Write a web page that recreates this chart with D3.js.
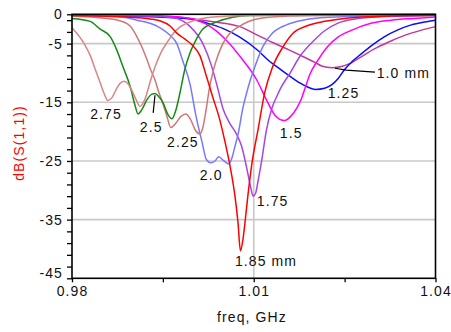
<!DOCTYPE html>
<html>
<head>
<meta charset="utf-8">
<script src="https://cdn.jsdelivr.net/npm/d3@7"></script>
<style>
  body { margin: 0; background: #fff; }
  svg { display: block; font-family: "Liberation Sans", Arial, sans-serif; }
</style>
</head>
<body>
<div id="chart"></div>
<script>
// Return loss curves, one per patch width (frequency in GHz, S11 in dB)
const f275 = [0.98, 0.9820, 0.9830, 0.9838, 0.9846, 0.9853, 0.9859, 0.9866, 0.9873, 0.9879, 0.9886, 0.9892, 0.9899, 0.9906, 0.9912, 0.9917, 0.9922, 0.9929, 0.9937, 0.9947, 0.9957, 0.9967, 0.9978, 0.9990, 1.0011, 1.0060, 1.0150, 1.0250, 1.04];
const db275 = [-2.3, -5, -7, -9.3, -11.5, -13.5, -14.7, -14.2, -12.8, -11.8, -11.4, -11.8, -13, -14.6, -15.7, -15.2, -14, -11.5, -9, -6.5, -4.8, -3.3, -2.2, -1.5, -0.8, -0.3, -0.15, -0.08, -0.05];

const f250 = [0.98, 0.9830, 0.9846, 0.9863, 0.9874, 0.9884, 0.9896, 0.9904, 0.9909, 0.9915, 0.9924, 0.9932, 0.9937, 0.9943, 0.9950, 0.9958, 0.9965, 0.9971, 0.9978, 0.9986, 0.9995, 1.0003, 1.0016, 1.0039, 1.0065, 1.0093, 1.0176, 1.04];
const db250 = [-0.7, -1.2, -2.5, -3.8, -6.1, -8.9, -12.3, -15.5, -17, -16.3, -14.5, -13.6, -13.5, -14, -15, -17, -17.8, -16.5, -13.5, -9.5, -6.5, -4.7, -2.5, -1.3, -0.5, -0.2, -0.1, -0.05];

const f225 = [0.98, 0.9846, 0.9879, 0.9896, 0.9907, 0.9915, 0.9924, 0.9930, 0.9937, 0.9943, 0.9950, 0.9957, 0.9963, 0.9971, 0.9980, 0.9988, 0.9996, 1.0004, 1.0011, 1.0016, 1.0021, 1.0027, 1.0034, 1.0041, 1.0049, 1.0060, 1.0077, 1.0105, 1.0159, 1.0258, 1.04];
const db225 = [-0.3, -0.6, -1.1, -2, -3.8, -5.5, -7.8, -9.5, -11.2, -13.2, -15.2, -17.5, -19.3, -18.6, -17.4, -17, -18, -19.8, -20.4, -19.3, -16.5, -12.5, -9.3, -7, -5, -3.3, -2, -0.8, -0.3, -0.15, -0.1];

const f200 = [0.98, 0.9879, 0.9907, 0.9940, 0.9961, 0.9973, 0.9983, 0.9995, 1.0004, 1.0014, 1.0022, 1.0029, 1.0036, 1.0042, 1.0051, 1.0059, 1.0064, 1.0069, 1.0074, 1.0082, 1.0088, 1.0095, 1.0102, 1.0115, 1.0131, 1.0154, 1.0181, 1.0225, 1.0308, 1.04];
const db200 = [-0.1, -0.4, -1, -2, -3.5, -5, -8, -12, -17, -21.5, -24.8, -25.3, -25, -24.3, -25, -25.5, -24.5, -22.5, -20.5, -16, -13.5, -11, -8.9, -5.5, -3.2, -1.8, -1, -0.5, -0.25, -0.15];

const f185 = [0.98, 0.9896, 0.9929, 0.9945, 0.9962, 0.9973, 0.9986, 0.9998, 1.0011, 1.0022, 1.0032, 1.0044, 1.0052, 1.0060, 1.0069, 1.0074, 1.0078, 1.0082, 1.0085, 1.0090, 1.0097, 1.0107, 1.0118, 1.0131, 1.0148, 1.0164, 1.0187, 1.0217, 1.0250, 1.0295, 1.04];
const db185 = [-0.2, -0.5, -0.8, -1.1, -2, -3.2, -4.2, -5.2, -7, -10.6, -14, -18, -21.5, -25.4, -31, -35.5, -40.3, -38.5, -36, -31.2, -25.4, -19.7, -13.4, -9, -5.6, -3.3, -2, -1.2, -0.7, -0.4, -0.15];

const f175 = [0.98, 0.9929, 0.9967, 0.9995, 1.0016, 1.0031, 1.0041, 1.0049, 1.0060, 1.0072, 1.0080, 1.0088, 1.0095, 1.0099, 1.0103, 1.0107, 1.0113, 1.0121, 1.0130, 1.0138, 1.0146, 1.0159, 1.0176, 1.0201, 1.0217, 1.0239, 1.0267, 1.0308, 1.04];
const db175 = [-0.2, -0.3, -0.6, -2.1, -5, -9, -12.8, -16, -18.5, -20.5, -22.5, -26, -29.5, -31, -30.5, -28.5, -25, -19.7, -16, -14, -12.3, -10.2, -7.2, -4.3, -2.8, -1.5, -0.8, -0.4, -0.2];

const f150 = [0.98, 0.9929, 0.9971, 1.0007, 1.0020, 1.0039, 1.0060, 1.0082, 1.0105, 1.0121, 1.0135, 1.0143, 1.0151, 1.0161, 1.0171, 1.0179, 1.0186, 1.0192, 1.0206, 1.0222, 1.0239, 1.0262, 1.0295, 1.0327, 1.0365, 1.04];
const db150 = [-0.1, -0.2, -0.4, -1, -1.6, -2.9, -5, -7.8, -11.2, -14.6, -17.2, -17.9, -18.1, -17.4, -16, -14.3, -12.2, -10.4, -7.8, -5.5, -3.9, -2.7, -1.5, -1, -0.7, -0.45];

const f125 = [0.98, 0.9929, 0.9995, 1.0023, 1.0049, 1.0077, 1.0105, 1.0126, 1.0143, 1.0159, 1.0176, 1.0189, 1.0202, 1.0217, 1.0229, 1.0239, 1.0250, 1.0262, 1.0278, 1.0295, 1.0316, 1.0337, 1.0360, 1.0382, 1.04];
const db125 = [-0.2, -0.4, -0.8, -1.5, -2.4, -3.9, -6, -8, -9.3, -10.5, -11.7, -12.4, -12.8, -12.6, -12, -11, -9.4, -8.1, -6.7, -5.3, -3.8, -2.7, -1.8, -1.3, -1];

const f100 = [0.98, 0.9929, 0.9995, 1.0036, 1.0077, 1.0105, 1.0131, 1.0159, 1.0181, 1.0201, 1.0212, 1.0229, 1.0245, 1.0258, 1.0278, 1.0299, 1.0321, 1.0349, 1.0377, 1.04];
const db100 = [-0.1, -0.3, -0.7, -1.3, -2.1, -3.5, -4.8, -6.1, -7.2, -8.2, -8.8, -9.1, -8.9, -8.4, -7.2, -5.9, -4.8, -3.6, -2.7, -2.1];

// Curve labels: text, anchor frequency, anchor dB
const labelText = ["2.75", "2.5", "2.25", "2.0", "1.85 mm", "1.75", "1.5", "1.25", "1.0 mm"];
const labelF = [0.9830, 0.9912, 0.9957, 1.0011, 1.0069, 1.0105, 1.0143, 1.0222, 1.0303];
const labelDb = [-17.9, -20.1, -22.6, -28.3, -42.9, -32.7, -21.1, -14.3, -10.9];

// Axis ticks
const xTicks = [0.98, 0.995, 1.01, 1.025, 1.04];
const xLabels = [0.98, 1.01, 1.04];
const yTicks = [0].concat(d3.range(-1, -46, -2));
const yLabels = [0, -5, -15, -25, -35, -45];
const yGrid = [-5, -15, -25, -35];
const xGrid = [1.01];

const curves = [
  {f: f100, db: db100, color: "#c4369a"},
  {f: f125, db: db125, color: "#0a0aff"},
  {f: f150, db: db150, color: "#ff00ff"},
  {f: f175, db: db175, color: "#a646e0"},
  {f: f200, db: db200, color: "#7878ff"},
  {f: f225, db: db225, color: "#cf7676"},
  {f: f250, db: db250, color: "#158a15"},
  {f: f275, db: db275, color: "#d98686"},
  {f: f185, db: db185, color: "#ff0000"}
];

const WIDTH = 451, HEIGHT = 332;
const svg = d3.select("#chart").append("svg")
  .attr("width", WIDTH).attr("height", HEIGHT);

// SCALES
const xScale = d3.scaleLinear().domain([0.98, 1.04]).range([72, 435.5]);
const yScale = d3.scaleLinear().domain([0, -45]).range([14.3, 278.3]);

// grid
svg.append("g").selectAll("line").data(yGrid).join("line")
  .attr("x1", xScale(0.98)).attr("x2", xScale(1.04))
  .attr("y1", d => yScale(d)).attr("y2", d => yScale(d))
  .attr("stroke", "#c8c8c8").attr("stroke-width", 1.6);
svg.append("g").selectAll("line").data(xGrid).join("line")
  .attr("x1", d => xScale(d)).attr("x2", d => xScale(d))
  .attr("y1", yScale(0)).attr("y2", yScale(-45))
  .attr("stroke", "#c8c8c8").attr("stroke-width", 1.6);

// curves
const line = d3.line()
  .x(d => xScale(d[0]))
  .y(d => yScale(d[1]))
  .curve(d3.curveMonotoneX);

svg.append("g").selectAll("path").data(curves).join("path")
  .attr("d", c => line(c.f.map((v, i) => [v, c.db[i]])))
  .attr("fill", "none")
  .attr("stroke", c => c.color)
  .attr("stroke-width", 1.5);

// frame
svg.append("rect")
  .attr("x", xScale(0.98)).attr("y", yScale(0))
  .attr("width", xScale(1.04) - xScale(0.98))
  .attr("height", yScale(-45) - yScale(0))
  .attr("fill", "none").attr("stroke", "#000").attr("stroke-width", 1.6);

// axes
const yAxis = svg.append("g")
  .attr("transform", `translate(${xScale(0.98)},0)`)
  .call(d3.axisLeft(yScale).tickValues(yTicks).tickSize(5).tickPadding(4)
    .tickFormat(d => yLabels.includes(d) ? d : ""));
const xAxis = svg.append("g")
  .attr("transform", `translate(0,${yScale(-45)})`)
  .call(d3.axisBottom(xScale).tickValues(xTicks).tickSize(4).tickPadding(4)
    .tickFormat(d => xLabels.includes(d) ? d : ""));

[yAxis, xAxis].forEach(g => {
  g.select(".domain").remove();
  g.selectAll(".tick line").attr("stroke", "#000").attr("stroke-width", 1.3);
  g.selectAll(".tick text")
    .attr("fill", "#111")
    .style("font-size", "14px")
    .style("letter-spacing", "1.1px");
});
yAxis.selectAll(".tick text").filter(d => d === -45).attr("dy", "-0.05em");

// axis titles
svg.append("text")
  .attr("x", 252).attr("y", 322)
  .attr("text-anchor", "middle")
  .style("font-size", "14px").style("letter-spacing", "1.1px")
  .attr("fill", "#111")
  .text("freq, GHz");
svg.append("text")
  .attr("transform", "translate(24,143) rotate(-90)")
  .attr("text-anchor", "middle")
  .style("font-size", "14px").style("letter-spacing", "1.1px")
  .attr("fill", "#ff0000")
  .text("dB(S(1,1))");

// leader lines
svg.append("polyline")
  .attr("points", [[0.9937, -13.8], [0.9934, -16.8]].map(p => [xScale(p[0]), yScale(p[1])].join(",")).join(" "))
  .attr("fill", "none").attr("stroke", "#000").attr("stroke-width", 1.2);
svg.append("polyline")
  .attr("points", [[1.0234, -9.2], [1.0253, -9.5], [1.0300, -9.85]].map(p => [xScale(p[0]), yScale(p[1])].join(",")).join(" "))
  .attr("fill", "none").attr("stroke", "#000").attr("stroke-width", 1.2);

// curve labels
svg.append("g").selectAll("text").data(labelText).join("text")
  .attr("x", (d, i) => xScale(labelF[i]))
  .attr("y", (d, i) => yScale(labelDb[i]))
  .style("font-size", "14px").style("letter-spacing", "1.1px")
  .attr("fill", "#111")
  .text(d => d);
</script>
</body>
</html>
